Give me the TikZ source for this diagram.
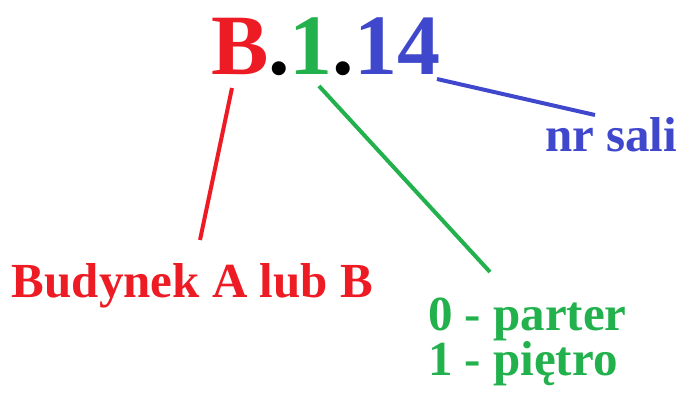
\documentclass[tikz,border=0pt]{standalone}
\usepackage{fontspec}
\setmainfont{Liberation Serif}
\definecolor{pred}{RGB}{237,28,36}
\definecolor{pgreen}{RGB}{34,177,76}
\definecolor{pblue}{RGB}{63,72,204}
\begin{document}
\begin{tikzpicture}[x=1pt,y=-1pt,
  lbl/.style={inner sep=0pt,outer sep=0pt,anchor=base west,font=\bfseries\fontsize{49}{45}\selectfont},
  ttl/.style={inner sep=0pt,outer sep=0pt,anchor=base west,font=\bfseries\fontsize{86}{86}\selectfont},
  conn/.style={line width=4pt}]
\useasboundingbox (0,0) rectangle (683,392);
\node[ttl] (title) at (211,74) {\textcolor{pred}{B}.\textcolor{pgreen}{1}.\textcolor{pblue}{14}};
\node[lbl,text=pblue] (sala) at (545,151) {nr sali};
\node[lbl,text=pred] (bud) at (12,297) {Budynek A lub B};
\node[lbl,text=pgreen] (pietro) at (428,330) {0 - parter};
\node[lbl,text=pgreen] (pietro2) at (428,375) {1 - piętro};
\coordinate (rA) at (232,88);
\coordinate (rB) at (200,240);
\coordinate (gA) at (319,86);
\coordinate (gB) at (490,272);
\coordinate (bA) at (437,79);
\coordinate (bB) at (595,115);
\draw[conn,pred] (rA) -- (rB);
\draw[conn,pgreen] (gA) -- (gB);
\draw[conn,pblue] (bA) -- (bB);
\end{tikzpicture}
\end{document}
